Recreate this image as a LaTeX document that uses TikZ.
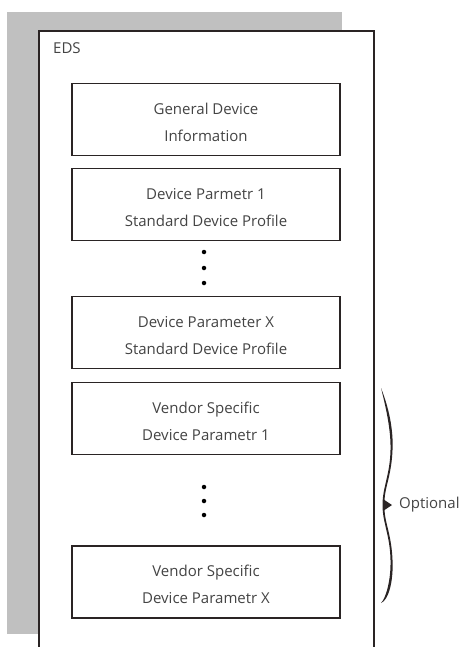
\documentclass[tikz,border=0pt]{standalone}
\usepackage{fontspec}
\setmainfont{Open Sans}
\definecolor{txt}{HTML}{444444}
\definecolor{edge}{HTML}{2A2424}
\definecolor{bggray}{HTML}{C0C0C0}
\newcommand{\tstrut}{\rule{0pt}{16.5pt}}
\begin{document}
\begin{tikzpicture}[x=1pt,y=-1pt,
  blk/.style={draw=edge,line width=1.6pt,minimum width=268pt,minimum height=72pt,align=center,text=txt,inner sep=0pt,font=\fontsize{15}{27}\selectfont},
  lbl/.style={text=txt,inner sep=0pt,font=\fontsize{15}{27}\selectfont},
  dot/.style={circle,fill=black,minimum size=4.5pt,inner sep=0pt}]
\useasboundingbox (0,0) rectangle (459,647);
\clip (0,0) rectangle (459,647);
\fill[bggray] (7,12) rectangle (342,634);
\draw[edge,line width=1.8pt,fill=white] (39,31) rectangle (374,670);
\node[lbl,anchor=west] (eds) at (53,48) {EDS};
\node[blk] (b1) at (206,119.5) {\tstrut General Device\\Information};
\node[blk] (b2) at (206,204.5) {\tstrut Device Parmetr 1\\Standard Device Profile};
\node[dot] (d1) at (204,252) {};
\node[dot] (d2) at (204,268) {};
\node[dot] (d3) at (204,283) {};
\node[blk] (b3) at (206,332.5) {\tstrut Device Parameter X\\Standard Device Profile};
\node[blk] (b4) at (206,418.5) {\tstrut Vendor Specific\\Device Parametr 1};
\node[dot] (d4) at (204,487) {};
\node[dot] (d5) at (204,501) {};
\node[dot] (d6) at (204,515) {};
\node[blk] (b5) at (206,582) {\tstrut Vendor Specific\\Device Parametr X};
\fill[edge] (381,388) .. controls (389,408) and (393.5,430) .. (392.5,450)
  .. controls (391.5,475) and (385,487) .. (384.5,500) -- (392,505) -- (384.5,510)
  .. controls (385,523) and (391.5,535) .. (392.5,560)
  .. controls (393.5,580) and (389,600) .. (381,603)
  .. controls (386,598) and (391,580) .. (390.5,560)
  .. controls (390,535) and (382.5,523) .. (382.5,505)
  .. controls (382.5,487) and (390,475) .. (390.5,450)
  .. controls (391,430) and (386,408) .. (381,388) -- cycle;
\node[lbl,anchor=west] (opt) at (399,505) {Optional};
\end{tikzpicture}
\end{document}
